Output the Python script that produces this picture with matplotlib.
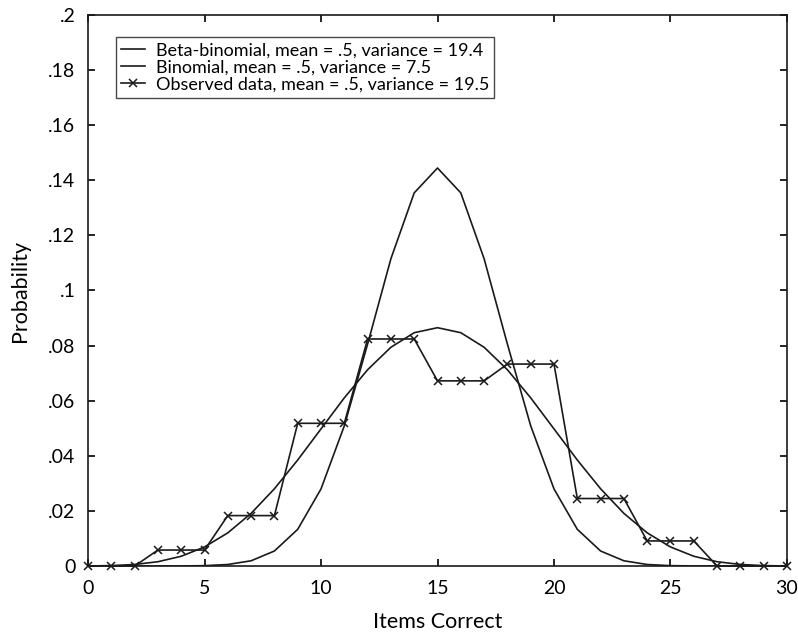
import matplotlib
matplotlib.use("Agg")
import matplotlib.pyplot as plt

plt.rcParams['font.family'] = ['Lato', 'DejaVu Sans']

# Items correct (0..30)
items = list(range(31))

# Beta-binomial, mean .5, variance 19.4
beta_binom = [0.00002, 0.00015, 0.00056, 0.00156, 0.00354, 0.00692, 0.01204,
              0.01911, 0.02804, 0.03848, 0.04977, 0.06103, 0.07124, 0.07940,
              0.08468, 0.08650, 0.08468, 0.07940, 0.07124, 0.06103, 0.04977,
              0.03848, 0.02804, 0.01911, 0.01204, 0.00692, 0.00354, 0.00156,
              0.00056, 0.00015, 0.00002]

# Binomial, mean .5, variance 7.5
binom = [0.0, 0.0, 0.0, 0.0, 0.00003, 0.00013, 0.00055, 0.00190, 0.00545,
         0.01332, 0.02798, 0.05088, 0.08055, 0.11153, 0.13543, 0.14446,
         0.13543, 0.11153, 0.08055, 0.05088, 0.02798, 0.01332, 0.00545,
         0.00190, 0.00055, 0.00013, 0.00003, 0.0, 0.0, 0.0, 0.0]

# Observed data
observed = [0, 0, 0, 0.0058, 0.0058, 0.0058, 0.0183, 0.0183, 0.0183,
            0.0518, 0.0518, 0.0518, 0.0824, 0.0824, 0.0824, 0.0672, 0.0672,
            0.0672, 0.0733, 0.0733, 0.0733, 0.0245, 0.0245, 0.0245, 0.0091,
            0.0091, 0.0091, 0, 0, 0, 0]

yticks = [0, 0.02, 0.04, 0.06, 0.08, 0.1, 0.12, 0.14, 0.16, 0.18, 0.2]
ylabels = ['0', '.02', '.04', '.06', '.08', '.1', '.12', '.14', '.16', '.18', '.2']
xticks = [0, 5, 10, 15, 20, 25, 30]

fig = plt.figure(figsize=(7.98, 6.32), dpi=100)
ax = fig.add_axes([0.1103, 0.1044, 0.8759, 0.8719])

col = '#1a1a1a'
ax.plot(items, beta_binom, color=col, lw=1.2,
        label='Beta-binomial, mean = .5, variance = 19.4')
ax.plot(items, binom, color=col, lw=1.2,
        label='Binomial, mean = .5, variance = 7.5')
ax.plot(items, observed, color=col, lw=1.2, marker='x', ms=6, mew=1.1,
        label='Observed data, mean = .5, variance = 19.5', clip_on=False)

ax.set_xlim(0, 30)
ax.set_ylim(0, 0.2)
ax.set_xticks(xticks)
ax.set_yticks(yticks)
ax.set_yticklabels(ylabels)
ax.tick_params(direction='in', top=True, right=True, length=5, width=1.2,
               labelsize=14)
ax.tick_params(axis='x', pad=10)
ax.tick_params(axis='y', pad=9)
for s in ax.spines.values():
    s.set_linewidth(1.2)
    s.set_color(col)

ax.set_xlabel('Items Correct', fontsize=15.5, labelpad=11)
ax.set_ylabel('Probability', fontsize=15.5, labelpad=13)

leg = ax.legend(loc='upper left', bbox_to_anchor=(0.04, 0.96), fontsize=13,
                frameon=True, fancybox=False, numpoints=1, handlelength=1.3,
                handletextpad=0.6, labelspacing=0.05, borderpad=0.3,
                borderaxespad=0)
leg.get_frame().set_edgecolor(col)
leg.get_frame().set_linewidth(1.0)

fig.savefig('out.png', dpi=100)
